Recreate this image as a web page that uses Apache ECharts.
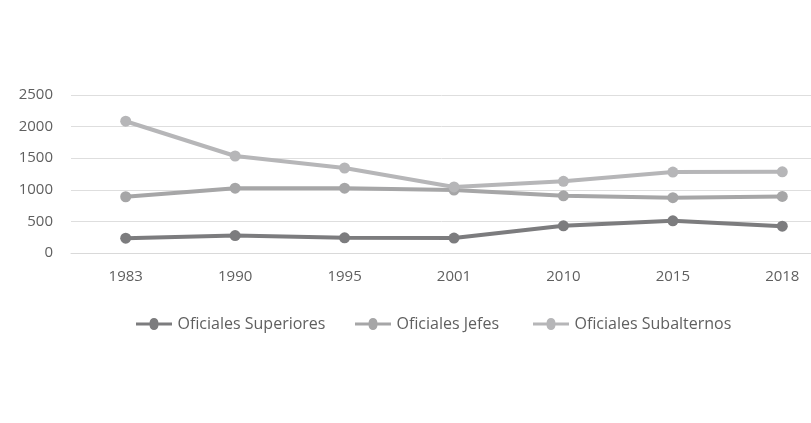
<!DOCTYPE html>
<html><head><meta charset="utf-8">
<script src="https://cdn.jsdelivr.net/npm/echarts@6/dist/echarts.min.js"></script>
<style>html,body{margin:0;padding:0;background:#fff}#c{width:811px;height:423px}</style>
</head><body><div id="c"></div>
<script>
const years = ['1983','1990','1995','2001','2010','2015','2018'];
const superiores = [235, 275, 240, 236, 430, 510, 425];
const jefes = [890, 1025, 1025, 995, 905, 875, 895];
const subalternos = [2085, 1535, 1345, 1045, 1135, 1280, 1285];
const seriesNames = ['Oficiales Superiores','Oficiales Jefes','Oficiales Subalternos'];
const colors = ['#7c7c7e','#a6a6a7','#b6b6b8'];
const yTicks = [0, 500, 1000, 1500, 2000, 2500];

const chart = echarts.init(document.getElementById('c'));
const font = '"Open Sans", "Liberation Sans", sans-serif';
const legendLefts = [131, 350, 528];
function mk(name, data, color) {
  return {
    name, type: 'line', data, symbol: 'circle', symbolSize: 11,
    lineStyle: {width: 4, color}, itemStyle: {color}, z: name === seriesNames[0] ? 3 : 2,
    animation: false
  };
}
chart.setOption({
  animation: false,
  color: colors,
  grid: {left: 71, right: -26, top: 95, bottom: 170, outerBoundsMode: 'none', containLabel: false},
  legend: seriesNames.map((n, i) => ({
    left: legendLefts[i], top: 311, itemWidth: 45, itemHeight: 12,
    textStyle: {fontFamily: font, fontSize: 16, color: '#5f5f5f', padding: [0,0,0,-4]},
    data: [{name: n, icon: 'path://M0,4 L17,4 A5.5,5.5 0 0 1 28,4 L45,4 L45,8 L28,8 A5.5,5.5 0 0 1 17,8 L0,8 Z'}]
  })),
  xAxis: {
    type: 'category', data: years, boundaryGap: true,
    axisLine: {lineStyle: {color: '#d9d9d9', width: 1}},
    axisTick: {show: false},
    axisLabel: {fontFamily: font, fontSize: 15, color: '#5f5f5f', margin: 16}
  },
  yAxis: {
    type: 'value', min: yTicks[0], max: yTicks[yTicks.length-1], interval: 500,
    axisLine: {show: false}, axisTick: {show: false},
    splitLine: {lineStyle: {color: '#dedede', width: 1}},
    axisLabel: {fontFamily: font, fontSize: 15, color: '#5f5f5f', margin: 18, formatter: v => String(v)}
  },
  series: [mk(seriesNames[0], superiores, colors[0]), mk(seriesNames[1], jefes, colors[1]), mk(seriesNames[2], subalternos, colors[2])]
});
</script></body></html>
